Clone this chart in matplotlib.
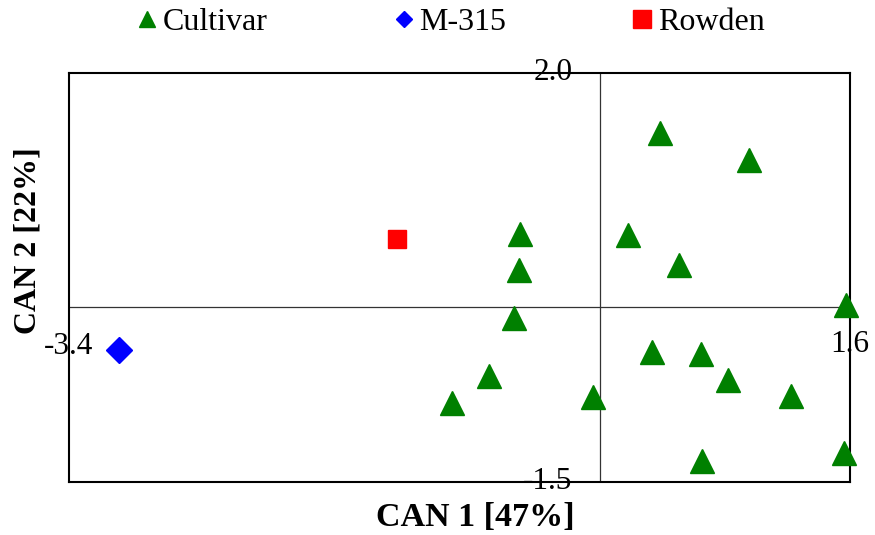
import matplotlib.pyplot as plt
from matplotlib.lines import Line2D

plt.rcParams["font.family"] = ["Liberation Serif", "DejaVu Serif"]

# canonical scores (CAN 1, CAN 2)
cultivar_x = [0.385, 0.954, -0.510, 0.181, -0.516, 0.507, 1.574, -0.548, 0.334,
              0.647, -0.708, 0.820, -0.951, -0.043, 1.223, 0.654, 1.562]
cultivar_y = [1.487, 1.255, 0.622, 0.614, 0.314, 0.357, 0.015, -0.097, -0.388,
              -0.405, -0.593, -0.627, -0.824, -0.773, -0.764, -1.320, -1.252]
m315_x = [-3.08]
m315_y = [-0.37]
rowden_x = [-1.30]
rowden_y = [0.58]

xlim = (-3.4, 1.6)
ylim = (-1.5, 2.0)

fig = plt.figure(figsize=(8.75, 5.35), dpi=100)
ax = fig.add_axes([0.0789, 0.0991, 0.8925, 0.7645])

ax.axhline(0, color="#333333", lw=0.9, zorder=1)
ax.axvline(0, color="#333333", lw=0.9, zorder=1)

ax.plot(cultivar_x, cultivar_y, "^", color="#008000", ms=17, ls="none",
        clip_on=False, zorder=3)
ax.plot(m315_x, m315_y, "D", color="#0000FF", ms=13, ls="none",
        clip_on=False, zorder=3)
ax.plot(rowden_x, rowden_y, "s", color="#FF0000", ms=13, ls="none",
        clip_on=False, zorder=3)

ax.set_xlim(*xlim)
ax.set_ylim(*ylim)
ax.set_xticks([])
ax.set_yticks([])
for s in ax.spines.values():
    s.set_linewidth(1.5)
    s.set_color("black")

# axis range labels sitting on the frame
fs = 22.5
ax.annotate(f"{ylim[1]:.1f}", xy=(0, ylim[1]), xytext=(-20, 0),
            textcoords="offset points", ha="right", va="center", fontsize=fs)
ax.annotate(f"{ylim[0]:.1f}", xy=(0, ylim[0]), xytext=(-20, 0),
            textcoords="offset points", ha="right", va="center", fontsize=fs)
ax.annotate(f"{xlim[0]:.1f}", xy=(xlim[0], 0), xytext=(0, -29),
            textcoords="offset points", ha="center", va="center", fontsize=fs)
ax.annotate(f"{xlim[1]:.1f}", xy=(xlim[1], 0), xytext=(0, -27),
            textcoords="offset points", ha="center", va="center", fontsize=fs)

fig.text(0.543, 0.032, "CAN 1 [47%]", ha="center", va="center",
         fontsize=24.5, fontweight="bold")
fig.text(0.032, 0.551, "CAN 2 [22%]", ha="center", va="center",
         rotation=90, fontsize=23, fontweight="bold")

handles = [
    Line2D([], [], marker="^", color="#008000", ls="none", ms=12),
    Line2D([], [], marker="D", color="#0000FF", ls="none", ms=8.5),
    Line2D([], [], marker="s", color="#FF0000", ls="none", ms=13),
]
fig.legend(handles, ["Cultivar", "M-315", "Rowden"], ncol=3,
           loc="center", bbox_to_anchor=(0.512, 0.958), frameon=False,
           fontsize=23, handletextpad=0.0, handlelength=1.0,
           columnspacing=3.75, borderpad=0)

fig.savefig("out.png", dpi=100)
